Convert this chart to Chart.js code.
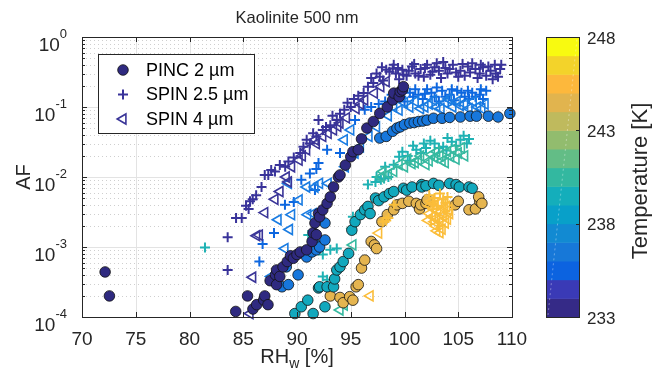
<!DOCTYPE html>
<html><head><meta charset="utf-8">
<script src="https://cdn.jsdelivr.net/npm/chart.js@4/dist/chart.umd.min.js"></script>
<style>html,body{margin:0;padding:0;background:#fff;overflow:hidden}canvas{display:block}</style>
</head><body><canvas id="c" width="653" height="383"></canvas>
<script>
// ---------- tick labels / scale data ----------
const xTicks = [70, 75, 80, 85, 90, 95, 100, 105, 110];
const yTicks = [1e-4, 1e-3, 1e-2, 1e-1, 1];
const yTickExp = ['-4', '-3', '-2', '-1', '0'];
const cbTicks = [233, 238, 243, 248];
const cbRange = [233, 248];
const cbColors = ['#352a87','#3a3ab6','#0c63e0','#1778d8','#128ad2','#08a0c9','#14aebb','#33b8a0',
                  '#63bd86','#92bc6e','#bfba5d','#e1b44e','#fdb83c','#f3d32a','#f8fa10'];
const legendLabels = ['PINC 2 µm', 'SPIN 2.5 µm', 'SPIN 4 µm'];

// ---------- series: [RHw %, AF] ----------
const pinc233 = [[72.15,4.4e-4],[72.55,2.0e-4],[84.3,1.2e-4],[85.4,2.0e-4],[85.9,1.3e-4],[86.25,1.5e-4],[86.9,1.75e-4],[87.0,2.0e-4],[87.3,1.5e-4],[87.5,3.3e-4],[88.0,4.0e-4],[88.1,4.7e-4],[88.1,2.9e-4],[88.4,3.8e-4],[88.7,5.2e-4],[89.1,6.2e-4],[89.4,7.5e-4],[89.66,6.9e-4],[90.0,7.8e-4],[90.3,8.5e-4],[90.9,9.1e-4],[91.4,1.2e-3],[91.5,1.6e-3],[91.67,2.2e-3],[91.8,1.5e-3],[92.0,3.0e-3],[92.1,2.7e-3],[92.4,3.4e-3],[92.8,4.2e-3],[93.1,5.2e-3],[93.4,7.2e-3],[93.85,1.0e-2],[94.0,1.07e-2],[94.5,1.48e-2],[95.0,1.95e-2],[95.2,2.3e-2],[95.7,2.45e-2],[96.0,3.5e-2],[96.5,5.0e-2],[97.1,6.2e-2],[97.7,8.1e-2],[98.4,0.10],[98.9,0.126],[99.0,0.158],[99.5,0.14],[99.6,0.166],[99.8,0.175],[99.9,0.195]];
const pinc236 = [[88.6,2.7e-4],[89.2,2.9e-4],[89.0,5.2e-4],[90.1,4.0e-4],[90.9,7.2e-4],[91.4,8.5e-4],[91.7,1.1e-3],[91.8,9.1e-4],[92.1,1.0e-3],[92.6,1.26e-3],[92.6,2.2e-3],[97.7,3.6e-2],[98.3,3.8e-2],[98.9,4.5e-2],[99.3,5.0e-2],[99.6,5.2e-2],[100.0,5.6e-2],[100.5,5.9e-2],[100.9,6.0e-2],[101.3,6.2e-2],[101.7,6.3e-2],[102.1,6.5e-2],[102.7,6.9e-2],[103.5,6.9e-2],[104.2,7.1e-2],[105.2,7.2e-2],[106.1,7.4e-2],[106.7,7.4e-2],[107.8,7.4e-2],[108.7,7.2e-2],[109.8,8.1e-2]];
const pinc239 = [[89.8,1.12e-4],[90.4,1.4e-4],[91.0,1.74e-4],[91.5,1.12e-4],[92.0,2.6e-4],[92.6,1.4e-4],[92.1,2.7e-4],[92.8,2.7e-4],[93.4,2.7e-4],[93.5,3.5e-4],[93.7,4.7e-4],[94.0,5.2e-4],[94.3,6.2e-4],[94.8,8.1e-4],[95.1,1.74e-3],[95.4,2.3e-3],[95.9,2.9e-3],[96.3,3.4e-3],[96.6,3.8e-3],[96.8,3.0e-3],[97.3,5.0e-3],[97.6,4.6e-3],[98.1,5.2e-3],[98.6,5.8e-3],[99.0,6.2e-3],[99.9,6.9e-3],[100.2,6.5e-3],[100.7,7.2e-3],[101.6,7.8e-3],[101.6,7.2e-3],[102.0,7.5e-3],[102.7,8.1e-3],[103.2,7.6e-3],[104.2,8.1e-3],[104.8,7.8e-3],[105.1,7.2e-3],[106.0,7.2e-3],[106.3,6.9e-3]];
const pinc244 = [[93.1,2.0e-4],[94.0,1.9e-4],[94.3,1.6e-4],[94.9,1.95e-4],[95.2,1.74e-4],[95.5,2.7e-4],[95.7,2.9e-4],[96.0,5.0e-4],[96.3,6.5e-4],[96.9,1.2e-3],[97.2,1.07e-3],[97.4,9.5e-4],[97.9,2.3e-3],[98.4,2.9e-3],[99.0,3.4e-3],[99.3,4.0e-3],[99.8,4.2e-3],[100.4,4.5e-3],[101.1,4.2e-3],[101.4,3.5e-3],[101.5,4.0e-3],[102.0,4.2e-3],[102.1,4.7e-3],[104.7,4.0e-3],[105.0,4.5e-3],[106.0,3.4e-3],[106.6,3.5e-3],[107.0,4.5e-3],[106.9,5.2e-3],[107.2,4.2e-3]];

const spin25_233 = [[83.55,1.38e-3],[83.55,4.7e-4],[84.33,2.6e-3],[84.86,2.6e-3],[85.26,3.9e-3],[85.5,3.5e-3],[85.63,4.5e-3],[85.88,4.8e-3],[86.2,5.5e-3],[86.7,7.2e-3],[87.0,1.07e-2],[87.33,1.07e-2],[87.6,1.26e-2],[87.95,1.2e-2],[88.4,1.48e-2],[88.9,1.4e-2],[89.2,1.66e-2],[89.7,1.9e-2],[90.3,2.2e-2],[90.6,2.7e-2],[90.9,3.4e-2],[91.2,3.0e-2],[91.5,4.2e-2],[91.8,3.8e-2],[92.0,6.5e-2],[92.4,4.7e-2],[92.7,5.2e-2],[93.1,5.5e-2],[93.3,7.5e-2],[93.7,6.5e-2],[94.0,8.0e-2],[94.4,9.1e-2],[94.7,0.115],[95.0,0.1],[95.3,0.13],[95.7,0.145],[96.2,0.158],[96.6,0.195],[96.9,0.26],[97.1,0.22],[97.4,0.30],[97.7,0.27],[97.9,0.37],[98.0,0.24],[98.3,0.34],[98.6,0.32],[98.9,0.355],[99.0,0.40],[99.2,0.30],[99.4,0.36],[99.5,0.25],[99.8,0.34],[99.9,0.29],[100.2,0.28],[100.4,0.33],[100.7,0.38],[100.9,0.41],[101.0,0.30],[101.3,0.28],[101.5,0.35],[101.8,0.27],[101.9,0.36],[102.1,0.40],[102.4,0.29],[102.6,0.32],[102.8,0.37],[103.0,0.42],[103.2,0.33],[103.4,0.26],[103.6,0.44],[103.8,0.36],[104.0,0.30],[104.2,0.35],[104.5,0.40],[104.8,0.31],[105.0,0.27],[105.2,0.33],[105.4,0.41],[105.6,0.28],[105.9,0.38],[106.1,0.31],[106.3,0.42],[106.6,0.35],[106.8,0.26],[107.0,0.30],[107.1,0.40],[107.3,0.37],[107.6,0.28],[107.8,0.38],[108.0,0.33],[108.2,0.25],[108.4,0.40],[108.5,0.30],[108.7,0.27],[108.9,0.35],[109.0,0.40]];
const spin25_235 = [[86.5,6.2e-4],[86.8,1.1e-3],[87.86,1.58e-3],[88.88,4.0e-3],[89.7,4.4e-3],[90.4,9.1e-3],[91.2,1.12e-2],[91.67,6.5e-3],[91.8,1.3e-2],[92.0,1.58e-2],[92.8,2.45e-2],[94.0,2.2e-2],[95.4,6.5e-2],[96.3,9.1e-2],[96.9,0.1],[97.6,0.11],[98.2,0.12],[98.8,0.15],[99.2,0.125],[99.7,0.14],[99.9,0.17],[100.0,0.12],[100.5,0.16],[100.8,0.14],[101.0,0.18],[101.3,0.15],[101.7,0.13],[101.9,0.155],[102.1,0.18],[102.5,0.16],[102.8,0.14],[103.0,0.19],[103.2,0.12],[103.5,0.17],[103.8,0.14],[104.2,0.15],[104.4,0.18],[104.6,0.125],[104.9,0.17],[105.3,0.16],[105.6,0.14],[105.9,0.17],[106.0,0.13],[106.3,0.16],[106.6,0.14],[107.0,0.15],[107.1,0.18],[107.3,0.13],[107.6,0.17]];
const spin25_240 = [[81.44,9.8e-4],[91.05,1.48e-3],[92.4,7.8e-4],[93.1,9.1e-4],[93.7,9.5e-4],[92.4,3.8e-4],[92.8,3.4e-4],[95.2,2.7e-3],[96.6,7.8e-3],[97.3,8.5e-3],[97.8,9.1e-3],[98.1,9.5e-3],[98.5,1.0e-2],[97.4,1.0e-2],[98.2,1.4e-2],[99.0,1.5e-2],[99.5,1.95e-2],[99.8,2.3e-2],[100.3,2.0e-2],[100.5,1.7e-2],[100.8,2.8e-2],[101.1,2.45e-2],[101.5,2.2e-2],[101.8,3.0e-2],[102.0,2.6e-2],[102.4,3.3e-2],[102.8,3.0e-2],[103.2,2.6e-2],[103.6,2.7e-2],[103.9,2.4e-2],[104.0,3.6e-2],[104.4,3.2e-2],[104.8,2.8e-2],[105.2,3.4e-2],[105.5,3.9e-2],[105.8,3.0e-2],[106.0,3.5e-2]];
const spin25_245 = [[98.0,2.3e-3],[98.3,2.4e-3],[98.5,2.6e-3],[99.0,4.0e-3],[102.3,5.5e-3],[102.6,4.2e-3],[102.8,5.0e-3],[103.1,3.9e-3],[103.3,5.8e-3],[103.6,4.8e-3],[103.8,4.3e-3],[104.0,5.2e-3]];

const spin4_233 = [[85.63,1.12e-4],[85.88,3.7e-4],[86.25,1.45e-3],[86.5,1.48e-3],[87.0,3.1e-3],[87.95,4.8e-3],[88.42,6.2e-3],[89.0,1.0e-2],[89.2,8.5e-3],[89.5,1.4e-2],[90.2,1.74e-2],[90.5,2.0e-2],[90.9,2.45e-2],[91.7,3.4e-2],[91.8,3.0e-2],[92.4,3.8e-2],[92.9,4.2e-2],[93.4,4.7e-2],[93.8,5.3e-2],[94.0,5.9e-2],[94.6,7.0e-2],[95.5,9.5e-2],[95.9,0.11],[96.3,0.126],[97.2,0.158],[97.8,0.195],[98.3,0.23]];
const spin4_235 = [[87.6,3.8e-4],[88.24,2.45e-3],[88.88,9.5e-4],[89.3,1.78e-3],[89.5,2.9e-3],[89.2,8.1e-3],[90.2,4.7e-3],[90.9,7.2e-3],[91.0,2.9e-3],[91.5,3.0e-3],[91.67,7.2e-3],[92.1,8.1e-3],[92.9,8.1e-3],[94.4,3.4e-2],[94.5,1.4e-2],[95.0,4.7e-2],[95.4,2.2e-2],[95.9,2.7e-2],[96.7,3.8e-2],[97.4,5.2e-2],[98.5,7.5e-2],[99.0,0.1],[99.5,9.0e-2],[100.0,0.115],[100.5,0.1],[101.0,0.12],[101.5,9.5e-2],[101.9,0.1],[102.3,0.11],[102.7,0.125],[103.0,0.1],[103.4,9.5e-2],[103.8,0.115],[104.1,0.13],[104.5,0.1],[104.9,0.12],[105.2,0.105],[105.6,0.11],[106.0,9.5e-2],[106.4,0.12],[106.8,0.1],[107.2,9.5e-2],[107.5,0.11]];
const spin4_240 = [[94.0,1.26e-4],[94.4,1.48e-4],[95.2,1.07e-3],[95.2,1.86e-3],[97.8,1.0e-2],[98.0,1.2e-2],[98.5,1.1e-2],[99.0,1.2e-2],[99.5,1.5e-2],[100.0,1.4e-2],[100.3,1.8e-2],[100.7,1.55e-2],[101.0,1.6e-2],[101.3,1.75e-2],[101.5,2.0e-2],[102.0,1.5e-2],[102.3,1.7e-2],[102.5,2.1e-2],[102.8,1.9e-2],[103.0,2.3e-2],[103.3,2.0e-2],[103.5,1.7e-2],[103.8,1.6e-2],[104.0,2.3e-2],[104.3,1.95e-2],[104.5,2.5e-2],[104.8,1.8e-2],[105.0,2.2e-2],[105.3,2.6e-2],[105.6,2.0e-2]];
const spin4_245 = [[96.8,2.0e-4],[97.6,1.58e-3],[102.2,2.4e-3],[102.3,3.0e-3],[102.4,3.9e-3],[102.5,4.5e-3],[102.6,2.7e-3],[102.7,3.5e-3],[102.8,4.0e-3],[102.8,2.3e-3],[102.9,2.0e-3],[103.0,2.6e-3],[103.0,1.7e-3],[103.1,3.3e-3],[103.2,4.2e-3],[103.3,2.3e-3],[103.3,1.6e-3],[103.4,3.2e-3],[103.5,1.8e-3],[103.6,2.8e-3],[103.7,3.5e-3],[103.8,2.2e-3],[103.9,3.8e-3],[104.0,2.5e-3],[104.1,3.4e-3],[104.2,3.0e-3]];

// ---------- helpers ----------
const FONT = '"Liberation Sans", Arial, Helvetica, sans-serif';
const TXT = '#262626';
const pts = a => a.map(p => ({x: p[0], y: p[1]}));
function circ(data, color){ return {data: pts(data), pointStyle:'circle', pointRadius:5.3, backgroundColor:color, borderColor:'#111', borderWidth:0.8, showLine:false}; }
function cross(data, color){ return {data: pts(data), pointStyle:'cross', pointRadius:5, backgroundColor:color, borderColor:color, borderWidth:2, showLine:false}; }
function tri(data, color){ return {data: pts(data), pointStyle:'triangle', rotation:-90, pointRadius:5.8, backgroundColor:'rgba(0,0,0,0)', borderColor:color, borderWidth:1.6, showLine:false}; }

// first dataset is drawn on top in Chart.js
const datasets = [
  tri(spin4_245, '#fbbd3a'),
  cross(spin25_245, '#f9be3a'),
  circ(pinc233, '#2f2a80'),
  circ(pinc236, '#1777dc'),
  circ(pinc239, '#12a8bd'),
  circ(pinc244, '#e5b550'),
  tri(spin4_233, '#3a3598'),
  cross(spin25_233, '#39339a'),
  tri(spin4_235, '#1a7ce2'),
  cross(spin25_235, '#0d67e0'),
  tri(spin4_240, '#36b9a0'),
  cross(spin25_240, '#1fb2b4'),
];

function line(ctx,x1,y1,x2,y2){ ctx.beginPath(); ctx.moveTo(x1,y1); ctx.lineTo(x2,y2); ctx.stroke(); }

const deco = {
  id: 'deco',
  beforeDatasetsDraw(chart){
    const {ctx, chartArea:a, scales:{x, y}} = chart;
    ctx.save();
    ctx.lineWidth = 1;
    ctx.strokeStyle = '#cfcfcf'; ctx.setLineDash([1,3]);
    for (let e=-4; e<0; e++) for (let k=2; k<=9; k++){
      const py = Math.round(y.getPixelForValue(k*Math.pow(10,e))) + 0.5;
      line(ctx, a.left, py, a.right, py);
    }
    ctx.setLineDash([]);
    ctx.strokeStyle = '#e3e3e3';
    xTicks.forEach(v => { const px = Math.round(x.getPixelForValue(v)) + 0.5; line(ctx, px, a.top, px, a.bottom); });
    yTicks.forEach(v => { const py = Math.round(y.getPixelForValue(v)) + 0.5; line(ctx, a.left, py, a.right, py); });
    ctx.restore();
  },
  afterDatasetsDraw(chart){
    const {ctx, chartArea:a, scales:{x, y}} = chart;
    ctx.save();
    ctx.strokeStyle = TXT; ctx.lineWidth = 1;
    ctx.strokeRect(Math.round(a.left)+0.5, Math.round(a.top)+0.5, Math.round(a.right-a.left), Math.round(a.bottom-a.top));
    xTicks.forEach(v => {
      const px = Math.round(x.getPixelForValue(v)) + 0.5;
      line(ctx, px, a.bottom, px, a.bottom-5); line(ctx, px, a.top, px, a.top+5);
    });
    yTicks.forEach(v => {
      const py = Math.round(y.getPixelForValue(v)) + 0.5;
      line(ctx, a.left, py, a.left+5, py); line(ctx, a.right, py, a.right-5, py);
    });
    for (let e=-4; e<0; e++) for (let k=2; k<=9; k++){
      const py = Math.round(y.getPixelForValue(k*Math.pow(10,e))) + 0.5;
      line(ctx, a.left, py, a.left+3, py); line(ctx, a.right, py, a.right-3, py);
    }
    ctx.fillStyle = TXT; ctx.font = '19px ' + FONT; ctx.textAlign = 'center'; ctx.textBaseline = 'middle';
    xTicks.forEach(v => ctx.fillText(String(v), x.getPixelForValue(v), a.bottom + 23));
    yTicks.forEach((v, i) => {
      const py = y.getPixelForValue(v);
      ctx.font = '19px ' + FONT; const wb = ctx.measureText('10').width;
      ctx.font = '13px ' + FONT; const we = ctx.measureText(yTickExp[i]).width;
      const x0 = 67 - we - wb;
      ctx.textAlign = 'left'; ctx.textBaseline = 'alphabetic';
      ctx.font = '19px ' + FONT; ctx.fillText('10', x0, py + 14);
      ctx.font = '13px ' + FONT; ctx.fillText(yTickExp[i], x0 + wb, py + 1);
    });
    ctx.font = '16.5px ' + FONT; ctx.textAlign = 'center'; ctx.textBaseline = 'middle';
    ctx.fillText('Kaolinite 500 nm', (a.left + a.right)/2, 18);
    ctx.font = '20px ' + FONT; const w1 = ctx.measureText('RH').width; const w3 = ctx.measureText(' [%]').width;
    ctx.font = '14px ' + FONT; const w2 = ctx.measureText('w').width;
    let lx = (a.left + a.right)/2 - (w1 + w2 + w3)/2;
    ctx.textAlign = 'left'; ctx.textBaseline = 'alphabetic';
    ctx.font = '20px ' + FONT; ctx.fillText('RH', lx, 363);
    ctx.font = '14px ' + FONT; ctx.fillText('w', lx + w1, 368);
    ctx.font = '20px ' + FONT; ctx.fillText(' [%]', lx + w1 + w2, 363);
    ctx.save(); ctx.translate(24, (a.top + a.bottom)/2); ctx.rotate(-Math.PI/2);
    ctx.textAlign = 'center'; ctx.textBaseline = 'middle'; ctx.font = '20px ' + FONT;
    ctx.fillText('AF', 0, 0); ctx.restore();

    const lg = {x:98, y:54, w:156, h:79};
    ctx.fillStyle = '#fff'; ctx.fillRect(lg.x, lg.y, lg.w, lg.h);
    ctx.strokeStyle = '#262626'; ctx.lineWidth = 1; ctx.strokeRect(lg.x+0.5, lg.y+0.5, lg.w, lg.h);
    const rows = [70, 94.5, 119];
    const mx = 123;
    ctx.beginPath(); ctx.arc(mx, rows[0], 5.3, 0, Math.PI*2); ctx.fillStyle = '#2f2a80'; ctx.fill();
    ctx.strokeStyle = '#111'; ctx.lineWidth = 0.8; ctx.stroke();
    ctx.strokeStyle = '#39339a'; ctx.lineWidth = 2;
    line(ctx, mx-5, rows[1], mx+5, rows[1]); line(ctx, mx, rows[1]-5, mx, rows[1]+5);
    ctx.strokeStyle = '#3a3598'; ctx.lineWidth = 1.6; ctx.beginPath();
    const r = 5.8; ctx.moveTo(mx - r, rows[2]); ctx.lineTo(mx + r*0.5, rows[2] - r*0.866); ctx.lineTo(mx + r*0.5, rows[2] + r*0.866); ctx.closePath(); ctx.stroke();
    ctx.fillStyle = '#000'; ctx.font = '18px ' + FONT; ctx.textAlign = 'left'; ctx.textBaseline = 'middle';
    legendLabels.forEach((t, i) => ctx.fillText(t, 146, rows[i] + 1));

    const cb = {l:546, r:579, t:a.top, b:a.bottom};
    const n = cbColors.length, bh = (cb.b - cb.t) / n;
    cbColors.forEach((c, i) => { ctx.fillStyle = c; ctx.fillRect(cb.l, cb.b - (i+1)*bh, cb.r - cb.l, bh + 0.5); });
    ctx.strokeStyle = 'rgba(255,255,255,0.35)'; ctx.lineWidth = 1; ctx.setLineDash([2,3]);
    line(ctx, cb.l + 2, cb.b - 2, cb.r - 2, cb.t + 2); ctx.setLineDash([]);
    ctx.strokeStyle = TXT; ctx.lineWidth = 1; ctx.strokeRect(cb.l + 0.5, cb.t + 0.5, cb.r - cb.l, cb.b - cb.t);
    ctx.fillStyle = TXT; ctx.font = '17px ' + FONT; ctx.textAlign = 'left'; ctx.textBaseline = 'middle';
    cbTicks.forEach(t => {
      const py = cb.b - (t - cbRange[0]) / (cbRange[1] - cbRange[0]) * (cb.b - cb.t);
      line(ctx, cb.r, Math.round(py)+0.5, cb.r - 3, Math.round(py)+0.5);
      ctx.fillText(String(t), 587, py + 2);
    });
    ctx.save(); ctx.translate(641, (cb.t + cb.b)/2 + 4); ctx.rotate(-Math.PI/2);
    ctx.textAlign = 'center'; ctx.textBaseline = 'middle'; ctx.font = '22px ' + FONT;
    ctx.fillText('Temperature [K]', 0, 0); ctx.restore();
    ctx.restore();
  }
};

new Chart(document.getElementById('c'), {
  type: 'scatter',
  data: { datasets },
  options: {
    responsive: false, animation: false, devicePixelRatio: 1,
    layout: { padding: { left: 0, right: 141, top: 37, bottom: 0 } },
    plugins: { legend: { display: false }, tooltip: { enabled: false }, title: { display: false } },
    elements: { point: { hoverRadius: 5 } },
    clip: false,
    scales: {
      x: { type: 'linear', min: 70, max: 110, grid: { display: false }, border: { display: false },
           ticks: { display: false }, afterFit(s){ s.height = 66; } },
      y: { type: 'logarithmic', min: 1e-4, max: 1, grid: { display: false }, border: { display: false },
           ticks: { display: false }, afterFit(s){ s.width = 82; } }
    }
  },
  plugins: [deco]
});
</script>
</body></html>
